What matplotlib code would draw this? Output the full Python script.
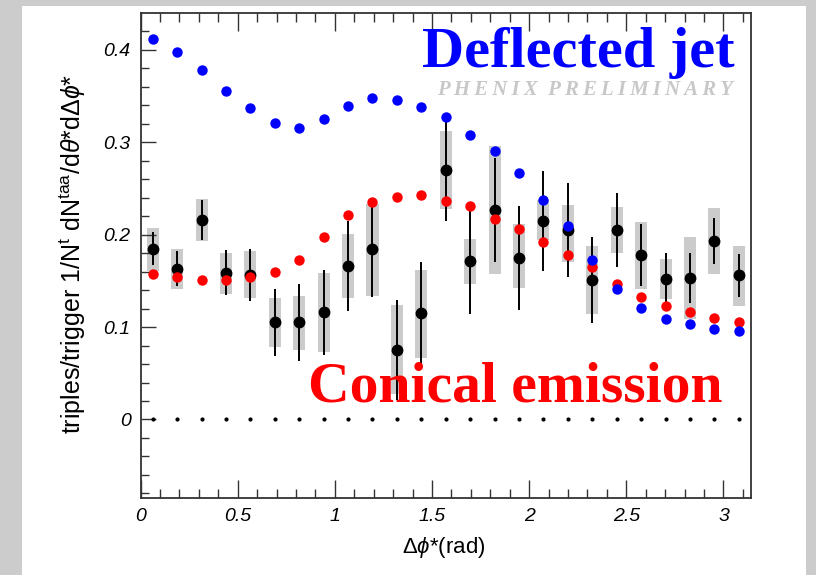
import numpy as np
import matplotlib.pyplot as plt
from matplotlib.patches import Rectangle

################################################################################
# Data
################################################################################
N_BINS = 25
bin_centers = (np.arange(N_BINS) + 0.5) * np.pi / N_BINS

deflected_jet = [0.412, 0.398, 0.378, 0.356, 0.337, 0.321, 0.315, 0.325, 0.339,
                 0.348, 0.346, 0.338, 0.327, 0.308, 0.291, 0.267, 0.238, 0.209,
                 0.173, 0.141, 0.121, 0.109, 0.103, 0.098, 0.096]

conical_emission = [0.158, 0.154, 0.151, 0.151, 0.154, 0.160, 0.173, 0.197,
                    0.221, 0.235, 0.241, 0.243, 0.237, 0.231, 0.217, 0.206,
                    0.192, 0.178, 0.165, 0.147, 0.133, 0.123, 0.116, 0.110,
                    0.106]

data_vals = [0.185, 0.163, 0.216, 0.159, 0.156, 0.105, 0.105, 0.116, 0.166,
             0.185, 0.075, 0.115, 0.270, 0.172, 0.227, 0.175, 0.215, 0.205,
             0.151, 0.205, 0.178, 0.152, 0.153, 0.193, 0.156]

data_stat = [0.018, 0.019, 0.022, 0.024, 0.028, 0.036, 0.042, 0.046, 0.049,
             0.052, 0.054, 0.056, 0.055, 0.058, 0.056, 0.056, 0.054, 0.051,
             0.047, 0.040, 0.034, 0.028, 0.027, 0.025, 0.023]

sys_high = [0.207, 0.185, 0.239, 0.180, 0.182, 0.132, 0.134, 0.159, 0.201,
            0.233, 0.124, 0.162, 0.312, 0.195, 0.296, 0.212, 0.238, 0.232,
            0.188, 0.230, 0.214, 0.174, 0.198, 0.229, 0.188]

sys_low = [0.161, 0.141, 0.193, 0.136, 0.131, 0.078, 0.075, 0.073, 0.131,
           0.134, 0.028, 0.067, 0.228, 0.147, 0.158, 0.142, 0.194, 0.170,
           0.114, 0.180, 0.141, 0.130, 0.109, 0.158, 0.123]

zero_line = np.zeros(N_BINS)

x_ticks = [0, 0.5, 1, 1.5, 2, 2.5, 3]
x_tick_labels = ["0", "0.5", "1", "1.5", "2", "2.5", "3"]
y_ticks = [0, 0.1, 0.2, 0.3, 0.4]
y_tick_labels = ["0", "0.1", "0.2", "0.3", "0.4"]

################################################################################
# Style
################################################################################
W_PX, H_PX = 816, 575
DPI = 100
GRAY_BG = "#cccccc"
SYS_GRAY = "#cbcbcb"
AXIS_COL = "#333333"
BOX_HALF = 0.031
THIN = "\u2009"

plt.rcParams["mathtext.fontset"] = "custom"
plt.rcParams["mathtext.rm"] = "Liberation Sans"
plt.rcParams["mathtext.it"] = "Liberation Sans:italic"

def fx(px):
    return px / W_PX

def fy(py):
    return 1 - py / H_PX

fig = plt.figure(figsize=(W_PX / DPI, H_PX / DPI), dpi=DPI, facecolor=GRAY_BG)
fig.patches.append(Rectangle((fx(22), 0), fx(806) - fx(22), fy(6),
                             transform=fig.transFigure, facecolor="white",
                             edgecolor="none", zorder=-10))

ax = fig.add_axes([fx(140.5), fy(498), fx(751) - fx(140.5), fy(13) - fy(498)])
ax.set_facecolor("white")
ax.set_zorder(1)

########################################
# Systematic boxes
########################################
for xc, lo, hi in zip(bin_centers, sys_low, sys_high):
    ax.add_patch(Rectangle((xc - BOX_HALF, lo), 2 * BOX_HALF, hi - lo,
                           facecolor=SYS_GRAY, edgecolor="none", zorder=1))

########################################
# Points
########################################
ax.errorbar(bin_centers, data_vals, yerr=data_stat, fmt="o", color="black",
            markersize=7.5, elinewidth=1.4, capsize=0, zorder=3)
ax.plot(bin_centers, conical_emission, "o", color="red", markersize=7.5,
        markeredgewidth=0, zorder=4)
ax.plot(bin_centers, deflected_jet, "o", color="blue", markersize=7.5,
        markeredgewidth=0, zorder=5)
ax.plot(bin_centers, zero_line, "o", color="black", markersize=3,
        markeredgewidth=0, zorder=3)

########################################
# Axes
########################################
ax.set_xlim(0, np.pi)
ax.set_ylim(-0.085, 0.44)

ax.set_xticks(x_ticks)
ax.set_xticklabels(x_tick_labels)
ax.set_xticks(np.arange(0, 3.15, 0.1), minor=True)
ax.set_yticks(y_ticks)
ax.set_yticklabels(y_tick_labels)
ax.set_yticks(np.arange(-0.08, 0.44, 0.02), minor=True)

ax.tick_params(axis="x", which="both", direction="in", top=True, bottom=True,
               color=AXIS_COL, width=1.0, pad=7)
ax.tick_params(axis="x", which="major", length=13)
ax.tick_params(axis="x", which="minor", length=6.5)
ax.tick_params(axis="y", which="both", direction="in", left=True, right=False,
               color=AXIS_COL, width=1.0, pad=7)
ax.tick_params(axis="y", which="major", length=11)
ax.tick_params(axis="y", which="minor", length=6)

for lab in ax.get_xticklabels() + ax.get_yticklabels():
    lab.set_family("Liberation Sans")
    lab.set_style("italic")
    lab.set_fontsize(14)

for sp in ax.spines.values():
    sp.set_color(AXIS_COL)
    sp.set_linewidth(1.3)

fig.text(fx(444), fy(548), r"$\Delta\phi$*(rad)", ha="center", va="center",
         fontsize=16, family="Liberation Sans")
fig.text(fx(73), fy(254),
         r"triples/trigger 1/N$^{\mathrm{t}}$ dN$^{\mathrm{taa}}$/d$\theta$*d$\Delta\phi$*",
         rotation=90, ha="center", va="center", fontsize=18,
         family="Liberation Sans")

########################################
# Annotations
########################################
fig.text(fx(735), fy(67), "Deflected jet", ha="right", va="baseline",
         color="blue", fontsize=42, fontweight="bold", family="Liberation Serif",
         zorder=10)
fig.text(fx(733), fy(95), THIN.join("PHENIX") + "  " + THIN.join("PRELIMINARY"),
         ha="right", va="baseline", color="#c8c8c8", fontsize=15,
         fontweight="bold", style="italic",
         family=["Liberation Serif", "DejaVu Serif"], zorder=10)
fig.text(fx(723), fy(402), "Conical emission", ha="right", va="baseline",
         color="red", fontsize=41.5, fontweight="bold", family="Liberation Serif",
         zorder=10)

fig.savefig("out.png", dpi=DPI, facecolor=fig.get_facecolor())
